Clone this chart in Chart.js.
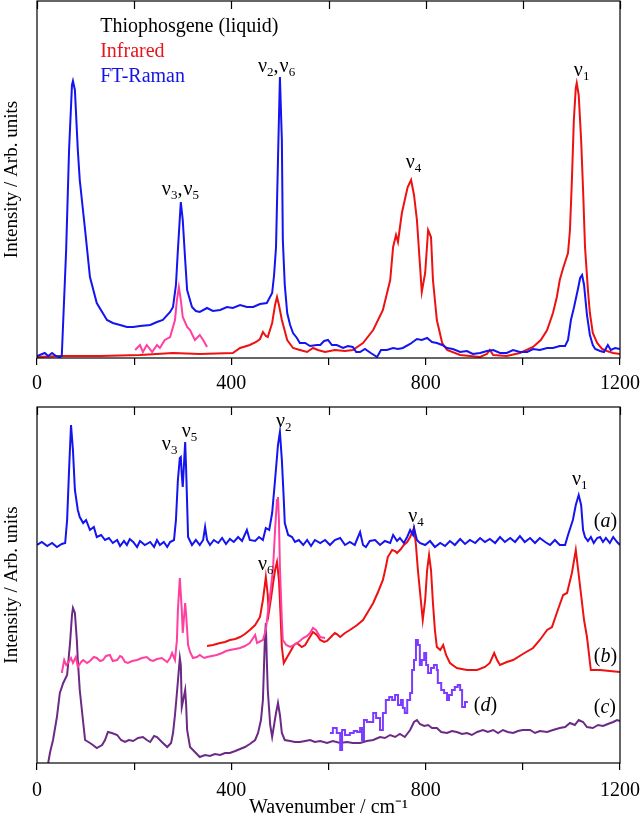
<!DOCTYPE html>
<html>
<head>
<meta charset="utf-8">
<script src="https://cdn.jsdelivr.net/npm/chart.js@4.4.0/dist/chart.umd.min.js"></script>
<style>
  html, body { margin: 0; padding: 0; background: #fff; }
  #topChart { position: absolute; left: 0; top: 0; }
  #botChart { position: absolute; left: 0; top: 400px; }
</style>
</head>
<body>
<canvas id="topChart" width="640" height="400"></canvas>
<canvas id="botChart" width="640" height="420"></canvas>
<script>
/* ── Datos: [número de onda, intensidad] ─────── */
const ramanTop = [[0,2],[16,5],[23,2],[31,5],[39,2],[47,1],[51,2],[60,108],[66,208],[72,273],[74,277],[78,268],[84,208],[88,178],[99,128],[109,81],[123,55],[144,38],[156,35],[171,33],[185,31],[198,31],[212,32],[233,33],[247,36],[259,38],[274,46],[280,51],[286,73],[290,108],[296,156],[300,138],[305,98],[309,68],[319,51],[327,47],[335,46],[350,50],[362,47],[377,48],[391,51],[403,50],[418,53],[432,51],[445,51],[459,54],[473,55],[484,65],[488,83],[492,111],[496,198],[500,281],[504,218],[506,118],[510,73],[515,45],[521,33],[527,25],[535,20],[541,15],[552,15],[562,12],[576,13],[583,13],[591,17],[599,18],[607,13],[617,13],[630,10],[640,12],[650,11],[657,6],[665,6],[675,9],[687,5],[700,1],[708,8],[720,8],[733,10],[743,9],[753,10],[768,14],[782,19],[792,18],[803,20],[813,16],[823,15],[834,13],[844,10],[856,9],[871,6],[885,7],[897,4],[912,5],[926,7],[939,8],[953,5],[967,5],[980,8],[994,6],[1009,6],[1021,9],[1035,8],[1050,10],[1062,10],[1076,12],[1087,12],[1093,18],[1099,38],[1105,50],[1113,68],[1118,80],[1122,83],[1126,73],[1132,43],[1138,23],[1144,13],[1149,9],[1159,7],[1167,6],[1175,13],[1181,8],[1190,10],[1200,9]];

const infraredTop = [[0,1],[47,2],[130,2],[212,3],[280,5],[335,4],[403,5],[418,10],[438,13],[451,16],[459,19],[465,26],[471,22],[475,21],[484,35],[490,53],[494,61],[498,53],[504,38],[515,18],[527,10],[541,8],[556,6],[568,10],[578,8],[593,6],[613,8],[634,7],[650,8],[671,15],[692,28],[712,48],[727,78],[733,111],[739,123],[743,116],[751,145],[757,158],[763,171],[770,178],[776,163],[782,138],[788,95],[792,66],[799,85],[805,128],[811,121],[815,78],[823,38],[834,15],[844,8],[871,3],[912,1],[926,4],[932,8],[939,3],[967,2],[994,5],[1021,11],[1037,18],[1050,28],[1062,45],[1070,61],[1076,78],[1083,90],[1089,99],[1093,105],[1097,128],[1101,178],[1105,238],[1109,270],[1111,275],[1115,263],[1120,218],[1124,168],[1128,111],[1134,68],[1138,45],[1144,25],[1153,15],[1163,9],[1173,7],[1186,5],[1200,4]];

const pinkTop = [[202,8],[212,13],[218,6],[226,13],[237,6],[247,13],[253,10],[263,18],[274,21],[284,38],[288,58],[292,71],[296,58],[300,41],[309,31],[315,28],[325,18],[335,23],[342,18],[350,11]];

const ramanA = [[0,218],[10,221],[21,217],[31,220],[41,216],[51,219],[58,220],[62,243],[66,293],[70,338],[74,313],[78,273],[84,253],[88,246],[95,240],[101,243],[109,233],[117,236],[123,226],[132,228],[140,223],[148,225],[156,220],[165,223],[171,217],[179,222],[185,218],[191,224],[198,221],[206,216],[212,222],[222,218],[233,221],[241,216],[247,223],[253,218],[261,221],[268,216],[274,221],[282,223],[286,243],[290,283],[294,305],[296,306],[298,288],[300,276],[303,303],[305,321],[307,293],[311,226],[319,218],[327,223],[335,218],[342,223],[346,236],[350,223],[356,218],[364,223],[373,220],[381,225],[389,219],[397,224],[405,221],[414,226],[422,222],[432,233],[438,223],[449,222],[457,226],[465,223],[471,235],[478,233],[484,250],[490,283],[496,318],[500,331],[504,303],[508,263],[510,240],[517,228],[525,226],[531,221],[539,223],[548,218],[556,223],[564,217],[572,223],[583,220],[593,223],[603,218],[613,223],[624,225],[634,218],[644,221],[654,218],[665,231],[671,218],[677,216],[685,222],[696,223],[706,218],[716,222],[727,220],[733,228],[741,222],[747,225],[755,220],[762,226],[768,233],[774,228],[776,235],[782,223],[788,220],[799,218],[809,222],[819,216],[830,220],[840,217],[850,222],[860,218],[871,224],[881,219],[891,223],[902,220],[912,225],[922,221],[932,224],[943,220],[953,226],[963,221],[974,225],[984,221],[994,227],[1004,221],[1015,225],[1025,220],[1035,225],[1046,221],[1056,218],[1066,223],[1076,218],[1087,218],[1093,228],[1103,243],[1109,258],[1115,268],[1120,258],[1124,233],[1128,226],[1134,222],[1140,226],[1146,220],[1153,225],[1159,226],[1165,221],[1171,225],[1179,220],[1186,226],[1194,221],[1200,218]];

const infraredB = [[350,117],[362,118],[377,120],[387,121],[397,123],[408,124],[418,126],[428,129],[438,133],[449,138],[459,146],[465,163],[469,178],[471,186],[475,168],[477,150],[482,166],[486,180],[490,193],[494,201],[498,183],[500,163],[504,116],[508,100],[515,106],[521,111],[529,118],[535,120],[545,116],[552,118],[558,123],[568,131],[576,128],[583,123],[591,121],[597,122],[605,126],[613,130],[617,129],[624,126],[634,130],[644,133],[659,138],[671,143],[681,151],[692,160],[702,171],[712,183],[718,196],[722,206],[731,213],[737,212],[741,210],[749,214],[755,218],[762,221],[768,226],[776,235],[780,218],[784,193],[790,163],[794,143],[799,163],[803,193],[807,208],[811,193],[815,160],[819,133],[823,116],[830,113],[836,118],[842,108],[850,100],[864,95],[885,93],[906,93],[922,96],[932,100],[941,110],[947,103],[953,98],[967,101],[980,103],[1000,109],[1021,115],[1035,123],[1050,133],[1060,136],[1072,153],[1083,168],[1091,170],[1101,190],[1109,213],[1118,176],[1126,143],[1132,126],[1140,93],[1159,93],[1179,92],[1200,91]];

const pinkB = [[51,90],[56,103],[60,98],[64,100],[70,105],[74,100],[80,106],[84,96],[91,101],[95,103],[103,100],[109,102],[117,106],[123,105],[130,102],[136,103],[142,107],[150,108],[156,102],[165,103],[171,107],[175,106],[181,101],[187,100],[196,102],[206,103],[216,105],[226,106],[233,103],[239,102],[247,104],[257,105],[268,101],[274,105],[278,110],[284,103],[288,123],[290,153],[294,185],[298,153],[300,130],[305,160],[307,148],[311,118],[315,111],[321,105],[329,106],[335,108],[344,105],[350,106],[360,107],[370,108],[381,110],[389,112],[397,113],[408,114],[418,115],[428,117],[438,120],[449,128],[453,120],[465,123],[471,133],[475,150],[480,168],[486,196],[490,233],[494,263],[496,266],[498,243],[500,196],[504,143],[506,123],[513,118],[521,116],[529,118],[535,120],[541,122],[548,125],[556,127],[562,130],[568,135],[574,133],[583,126],[593,125]];

const ramanC = [[23,0],[27,11],[33,23],[41,46],[47,70],[54,80],[62,88],[68,120],[72,148],[74,155],[78,150],[82,123],[84,103],[88,73],[93,50],[99,23],[109,20],[115,18],[123,15],[134,18],[140,23],[146,31],[154,30],[165,28],[173,23],[181,21],[189,23],[198,22],[208,25],[218,26],[226,23],[233,21],[241,27],[247,26],[257,21],[268,16],[276,20],[280,30],[284,48],[288,70],[294,105],[296,98],[298,56],[303,68],[305,73],[307,58],[309,33],[315,16],[325,11],[335,6],[346,8],[356,7],[366,9],[377,8],[387,10],[397,10],[408,12],[418,14],[428,16],[438,19],[449,23],[455,30],[461,43],[465,63],[469,123],[471,140],[473,103],[475,73],[480,38],[484,26],[488,38],[492,50],[496,60],[500,48],[504,30],[510,23],[521,22],[531,21],[541,21],[552,22],[562,23],[572,21],[583,22],[597,20],[609,22],[624,20],[638,21],[650,20],[665,20],[679,22],[692,23],[706,26],[716,25],[727,28],[737,26],[747,29],[757,26],[768,33],[776,41],[782,43],[788,39],[797,37],[805,38],[813,35],[823,35],[832,31],[844,30],[854,32],[864,31],[875,29],[885,30],[895,28],[906,31],[918,33],[928,31],[939,33],[949,30],[959,33],[969,31],[980,30],[990,32],[1000,33],[1015,33],[1025,30],[1035,32],[1050,31],[1062,33],[1076,35],[1087,36],[1097,40],[1107,38],[1115,43],[1124,41],[1132,36],[1144,35],[1155,38],[1165,37],[1175,39],[1186,41],[1194,43],[1200,42]];

const ramanD = [[603,30],[609,35],[617,30],[624,13],[628,33],[634,28],[644,30],[652,32],[659,31],[665,35],[669,23],[673,43],[679,41],[685,41],[692,50],[698,45],[706,33],[712,50],[718,63],[725,66],[731,63],[737,68],[743,58],[749,63],[753,55],[757,50],[762,63],[768,70],[772,93],[776,103],[780,123],[784,118],[788,98],[792,103],[797,110],[801,98],[805,90],[811,95],[817,98],[823,93],[825,80],[832,73],[838,70],[844,63],[848,68],[854,73],[860,76],[866,78],[871,73],[875,56],[881,61],[887,61]];

const xTicks = [0, 200, 400, 600, 800, 1000, 1200];

/* ── Etiquetas (coordenadas de datos) ────────── */
const topLabels = [
  { x: 130, y: 331, color: "#000", parts: [{ t: "Thiophosgene (liquid)" }] },
  { x: 130, y: 306, color: "#e8141c", parts: [{ t: "Infrared" }] },
  { x: 130, y: 281, color: "#1515e6", parts: [{ t: "FT-Raman" }] },
  { x: 455, y: 291, parts: [{ t: "ν" }, { t: "2", sub: true }, { t: "," }, { t: "ν" }, { t: "6", sub: true }] },
  { x: 257, y: 168, parts: [{ t: "ν" }, { t: "3", sub: true }, { t: "," }, { t: "ν" }, { t: "5", sub: true }] },
  { x: 759, y: 195, parts: [{ t: "ν" }, { t: "4", sub: true }] },
  { x: 1105, y: 287, parts: [{ t: "ν" }, { t: "1", sub: true }] },
];
const botLabels = [
  { x: 257, y: 318, parts: [{ t: "ν" }, { t: "3", sub: true }] },
  { x: 298, y: 331, parts: [{ t: "ν" }, { t: "5", sub: true }] },
  { x: 492, y: 341, parts: [{ t: "ν" }, { t: "2", sub: true }] },
  { x: 455, y: 198, parts: [{ t: "ν" }, { t: "6", sub: true }] },
  { x: 764, y: 246, parts: [{ t: "ν" }, { t: "4", sub: true }] },
  { x: 1101, y: 283, parts: [{ t: "ν" }, { t: "1", sub: true }] },
  { x: 1146, y: 241, parts: [{ t: "(" }, { t: "a", it: true }, { t: ")" }] },
  { x: 1146, y: 106, parts: [{ t: "(" }, { t: "b", it: true }, { t: ")" }] },
  { x: 1146, y: 55, parts: [{ t: "(" }, { t: "c", it: true }, { t: ")" }] },
  { x: 899, y: 57, parts: [{ t: "(" }, { t: "d", it: true }, { t: ")" }] },
];

const FONT = "'Liberation Serif', 'Times New Roman', serif";
const toXY = (arr) => arr.map(([x, y]) => ({ x, y }));

/* ── Plugin: marco, ticks superiores y textos ── */
const framePlugin = {
  id: "frame",
  afterDatasetsDraw(chart, args, opts) {
    const { ctx, chartArea: a, scales: { x, y } } = chart;
    ctx.save();
    ctx.strokeStyle = "#000";
    ctx.lineWidth = 1.2;
    ctx.strokeRect(a.left, a.top, a.right - a.left, a.bottom - a.top);
    xTicks.forEach((v) => {
      const px = Math.round(x.getPixelForValue(v)) + 0.5;
      ctx.beginPath();
      ctx.moveTo(px, a.top);
      ctx.lineTo(px, a.top + 8);
      ctx.stroke();
    });
    ctx.textBaseline = "middle";
    ctx.textAlign = "left";
    (opts.labels || []).forEach((l) => {
      let px = x.getPixelForValue(l.x);
      const py = y.getPixelForValue(l.y);
      ctx.fillStyle = l.color || "#000";
      l.parts.forEach((p) => {
        ctx.font = (p.it ? "italic " : "") + (p.sub ? "13px " : "20px ") + FONT;
        ctx.fillText(p.t, px, p.sub ? py + 6 : py);
        px += ctx.measureText(p.t).width + (p.t === "," ? 1 : 0);
      });
    });
    ctx.restore();
  },
};

function makeOptions(yMax, padTop, labels, xTitle, axisH, tickPad) {
  return {
    responsive: false,
    animation: false,
    layout: { padding: { top: padTop, right: 20, left: 0, bottom: 0 } },
    elements: { point: { radius: 0 }, line: { tension: 0 } },
    scales: {
      x: {
        type: "linear",
        min: 0,
        max: 1200,
        afterFit: (s) => { s.height = axisH; s.paddingLeft = 0; s.paddingRight = 0; },
        border: { display: false },
        grid: { drawOnChartArea: false, drawTicks: true, tickLength: 7, color: "#000", lineWidth: 1.2 },
        afterBuildTicks: (s) => { s.ticks = xTicks.map((v) => ({ value: v })); },
        ticks: {
          autoSkip: false,
          maxRotation: 0,
          padding: tickPad,
          color: "#000",
          font: { family: FONT, size: 20 },
          callback: (v) => (v % 400 === 0 ? String(v) : ""),
        },
        title: {
          display: !!xTitle,
          text: xTitle || "",
          color: "#000",
          font: { family: FONT, size: 20 },
          padding: { top: 0, bottom: 0 },
        },
      },
      y: {
        min: 0,
        max: yMax,
        afterFit: (s) => { s.width = 37; },
        border: { display: false },
        grid: { display: false },
        ticks: { display: false },
        title: {
          display: true,
          text: "Intensity / Arb. units",
          color: "#000",
          font: { family: FONT, size: 19 },
          padding: { top: 1, bottom: 0 },
        },
      },
    },
    plugins: {
      legend: { display: false },
      tooltip: { enabled: false },
      frame: { labels },
    },
  };
}

/* ── Panel superior ──────────────────────────── */
new Chart(document.getElementById("topChart"), {
  type: "line",
  data: {
    datasets: [
      { data: toXY(ramanTop), borderColor: "#1414f0", borderWidth: 2 },
      { data: toXY(pinkTop), borderColor: "#ff40a0", borderWidth: 2 },
      { data: toXY(infraredTop), borderColor: "#ee1111", borderWidth: 2 },
    ],
  },
  options: makeOptions(357, 1, topLabels, null, 42, 7),
  plugins: [framePlugin],
});

/* ── Panel inferior ──────────────────────────── */
new Chart(document.getElementById("botChart"), {
  type: "line",
  data: {
    datasets: [
      { data: toXY(ramanA), borderColor: "#1414f0", borderWidth: 2 },
      { data: toXY(ramanD), borderColor: "#7b3cff", borderWidth: 2, stepped: true },
      { data: toXY(pinkB), borderColor: "#ff40a0", borderWidth: 2 },
      { data: toXY(infraredB), borderColor: "#ee1111", borderWidth: 2 },
      { data: toXY(ramanC), borderColor: "#6b2a85", borderWidth: 2 },
    ],
  },
  options: makeOptions(356, 7, botLabels, "Wavenumber / cm⁻¹", 57, 9),
  plugins: [framePlugin],
});
</script>
</body>
</html>
